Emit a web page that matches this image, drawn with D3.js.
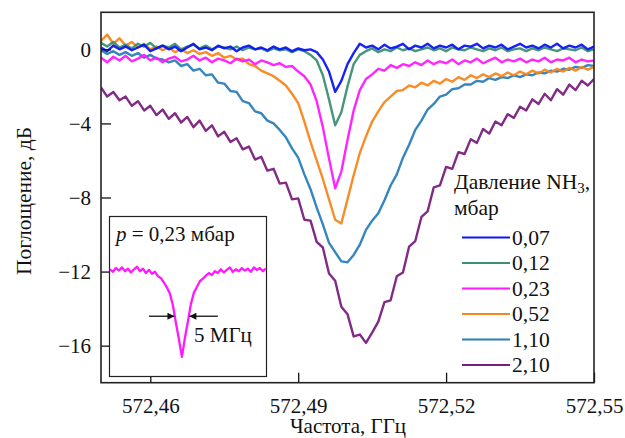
<!DOCTYPE html>
<html><head><meta charset="utf-8">
<script src="https://cdn.jsdelivr.net/npm/d3@7"></script>
<style>
body{margin:0;background:#fff}
svg{display:block}
text{font-family:"Liberation Serif","Times New Roman",serif;fill:#111}
</style>
</head><body>
<svg id="c" width="625" height="438"></svg>
<script>
// ---- data ----
const freq = [
572.45000,572.45125,572.45250,572.45375,572.45500,572.45625,572.45750,572.45875,572.46000,572.46125,
572.46250,572.46375,572.46500,572.46625,572.46750,572.46875,572.47000,572.47125,572.47250,572.47375,
572.47500,572.47625,572.47750,572.47875,572.48000,572.48125,572.48250,572.48375,572.48500,572.48625,
572.48750,572.48875,572.49000,572.49125,572.49250,572.49375,572.49500,572.49625,572.49750,572.49875,
572.50000,572.50125,572.50250,572.50375,572.50500,572.50625,572.50750,572.50875,572.51000,572.51125,
572.51250,572.51375,572.51500,572.51625,572.51750,572.51875,572.52000,572.52125,572.52250,572.52375,
572.52500,572.52625,572.52750,572.52875,572.53000,572.53125,572.53250,572.53375,572.53500,572.53625,
572.53750,572.53875,572.54000,572.54125,572.54250,572.54375,572.54500,572.54625,572.54750,572.54875,
572.55000];

const p007 = [
0.10,-0.10,0.20,0.00,0.15,-0.05,0.10,0.25,-0.10,0.05,
0.20,0.00,0.15,-0.10,0.10,0.30,0.00,0.10,-0.05,0.20,
0.05,0.15,-0.10,0.10,0.20,0.00,0.10,-0.05,0.15,0.00,
0.10,-0.10,0.05,-0.05,0.00,-0.15,-0.55,-1.20,-2.30,-1.70,
-0.80,-0.20,0.30,0.10,0.20,0.00,0.25,0.05,0.15,0.30,
0.00,0.20,0.10,0.30,0.05,0.20,0.10,0.25,0.00,0.20,
0.15,0.30,0.05,0.20,0.10,0.25,0.00,0.15,0.30,0.10,
0.20,0.05,0.25,0.10,0.30,0.05,0.20,0.10,0.25,0.00,
0.15];

const p012 = [
0.35,0.15,0.40,0.10,0.25,0.05,0.30,0.15,0.35,0.05,
0.20,0.10,0.30,0.00,0.15,0.25,0.05,0.20,0.00,0.15,
0.10,0.00,0.15,-0.05,0.10,0.00,0.05,-0.10,0.05,-0.05,
0.00,-0.15,0.00,-0.10,-0.30,-0.60,-1.40,-2.70,-4.10,-3.40,
-2.00,-0.80,-0.30,-0.10,0.05,-0.15,0.00,-0.10,0.10,-0.05,
0.05,-0.10,0.00,0.10,-0.05,0.05,-0.10,0.10,0.00,-0.05,
0.10,0.00,-0.10,0.05,-0.05,0.10,-0.10,0.00,0.05,-0.10,
0.05,-0.05,0.10,0.00,-0.10,0.05,0.00,-0.05,0.10,-0.10,
0.00];

const p023 = [
-0.45,-0.70,-0.40,-0.60,-0.35,-0.65,-0.50,-0.30,-0.60,-0.45,
-0.70,-0.50,-0.40,-0.65,-0.55,-0.35,-0.60,-0.45,-0.70,-0.50,
-0.60,-0.75,-0.50,-0.65,-0.55,-0.80,-0.60,-0.70,-0.85,-0.75,
-0.95,-0.90,-1.20,-1.45,-1.90,-2.80,-4.20,-5.90,-7.50,-6.60,
-4.90,-3.30,-2.20,-1.60,-1.35,-1.05,-1.15,-0.85,-1.00,-0.80,
-0.90,-0.70,-0.85,-0.60,-0.80,-0.65,-0.75,-0.55,-0.80,-0.60,
-0.70,-0.50,-0.75,-0.60,-0.45,-0.70,-0.55,-0.65,-0.50,-0.70,
-0.55,-0.65,-0.45,-0.70,-0.55,-0.60,-0.45,-0.70,-0.55,-0.65,
-0.60];

const p052 = [
0.45,0.80,0.30,0.60,0.20,0.40,0.10,0.30,0.00,0.15,
-0.05,0.10,-0.15,0.00,-0.20,-0.05,-0.25,-0.15,-0.35,-0.20,
-0.45,-0.35,-0.55,-0.50,-0.80,-0.90,-1.15,-1.30,-1.45,-1.70,
-1.95,-2.40,-2.90,-3.90,-5.00,-6.00,-7.00,-8.10,-9.20,-9.40,
-8.10,-6.80,-5.60,-4.70,-3.90,-3.35,-2.85,-2.55,-2.25,-2.20,
-1.95,-2.05,-1.80,-1.95,-1.70,-1.85,-1.60,-1.75,-1.50,-1.65,
-1.40,-1.55,-1.35,-1.50,-1.30,-1.45,-1.25,-1.40,-1.20,-1.35,
-1.15,-1.30,-1.10,-1.25,-1.05,-1.20,-1.00,-1.15,-0.95,-1.10,
-0.95];

const p110 = [
-0.05,-0.25,-0.10,-0.30,-0.15,-0.35,-0.20,-0.45,-0.30,-0.50,
-0.55,-0.70,-0.60,-0.90,-0.80,-1.15,-1.05,-1.40,-1.35,-1.80,
-1.85,-2.25,-2.30,-2.80,-2.90,-3.35,-3.45,-3.85,-4.00,-4.35,
-4.75,-5.35,-5.85,-6.75,-7.55,-8.55,-9.45,-10.45,-10.95,-11.45,
-11.50,-11.10,-10.55,-9.75,-9.25,-8.85,-8.15,-7.35,-6.75,-5.85,
-5.15,-4.35,-3.85,-3.25,-2.95,-2.55,-2.45,-2.15,-2.10,-1.90,
-1.90,-1.70,-1.75,-1.55,-1.65,-1.50,-1.55,-1.40,-1.50,-1.35,
-1.40,-1.25,-1.30,-1.15,-1.20,-1.05,-1.10,-0.95,-1.00,-0.85,
-0.90];

const p210 = [
-2.05,-2.55,-2.30,-2.75,-2.55,-3.05,-2.80,-3.30,-3.05,-3.55,
-3.25,-3.75,-3.45,-3.95,-3.65,-4.20,-3.85,-4.40,-4.10,-4.70,
-4.45,-5.00,-4.80,-5.40,-5.25,-5.95,-5.80,-6.55,-6.45,-7.25,
-7.20,-8.10,-8.05,-9.20,-9.25,-10.40,-10.70,-12.10,-12.50,-13.90,
-14.30,-15.50,-15.40,-15.85,-15.30,-14.70,-13.65,-13.55,-12.25,-12.05,
-10.65,-10.35,-9.05,-8.75,-7.45,-7.35,-6.35,-6.45,-5.55,-5.65,
-4.85,-5.05,-4.30,-4.55,-3.90,-4.10,-3.50,-3.70,-3.10,-3.30,
-2.70,-2.95,-2.40,-2.75,-2.15,-2.45,-1.90,-2.20,-1.70,-1.95,
-1.60];

const pressures = ["0,07","0,12","0,23","0,52","1,10","2,10"];
const seriesValues = [p007, p012, p023, p052, p110, p210];
const colors = ["#0b16f2","#3d8f73","#ff19ff","#f7861c","#2a80ba","#7a1f80"];

const xTicks = [572.46, 572.49, 572.52, 572.55];
const xTickLabels = ["572,46","572,49","572,52","572,55"];
const yTicks = [0, -4, -8, -12, -16];
const yTickLabels = ["0","\u22124","\u22128","\u221212","\u221216"];

// inset: offset from line centre, MHz, and absorption, dB (p = 0,23 mbar)
const insetOffset = [-24,-23,-22,-21,-20,-19,-18,-17,-16,-15,-14,-13,-12,-11,-10,-9,-8,-7,-6,-5,-4,-3,-2,-1,0,
1,2,3,4,5,6,7,8,9,10,11,12,13,14,15,16,17,18,19,20,21,22,23,24,25,26,27,28];
const insetValue = [-0.55,-0.75,-0.45,-0.65,-0.40,-0.70,-0.50,-0.80,-0.55,-0.35,-0.70,-0.50,-0.85,-0.60,-0.90,-0.75,-1.10,-1.25,-1.60,-2.00,-2.50,-3.40,-4.80,-6.10,-7.50,
-6.00,-4.70,-3.30,-2.40,-1.95,-1.50,-1.30,-1.05,-0.85,-1.00,-0.70,-0.85,-0.55,-0.80,-0.60,-0.40,-0.75,-0.55,-0.70,-0.45,-0.65,-0.50,-0.75,-0.40,-0.60,-0.45,-0.70,-0.50];
const insetFWHM = 5; // MHz

// ---- drawing ----
const svg = d3.select("#c");
const x = d3.scaleLinear().domain([572.45, 572.55]).range([101, 594]);
const y = d3.scaleLinear().domain([-18, 2]).range([382.7, 12.3]);

svg.append("defs").append("clipPath").attr("id","plotclip")
  .append("rect").attr("x",101).attr("y",12.3).attr("width",493).attr("height",370.4);

const line = d3.line().x(d => x(d[0])).y(d => y(d[1]));
const drawOrder = [5,4,3,2,1,0];
const gLines = svg.append("g").attr("clip-path","url(#plotclip)");
drawOrder.forEach(k => {
  const pts = freq.map((f,i) => [f, seriesValues[k][i]]).filter(d => d[1] !== undefined);
  gLines.append("path").datum(pts).attr("d", line)
    .attr("fill","none").attr("stroke", colors[k]).attr("stroke-width", 2.4)
    .attr("stroke-linejoin","round").attr("opacity",0.95);
});

// axes
const xAxis = d3.axisBottom(x).tickValues(xTicks).tickFormat((d,i) => xTickLabels[i])
  .tickSizeInner(-10).tickSizeOuter(0).tickPadding(15);
const gx = svg.append("g").attr("transform","translate(0,382.7)").call(xAxis);
const yAxis = d3.axisLeft(y).tickValues(yTicks).tickFormat((d,i) => yTickLabels[i])
  .tickSizeInner(-10).tickSizeOuter(0).tickPadding(10);
const gy = svg.append("g").attr("transform","translate(101,0)").call(yAxis);
[gx, gy].forEach(g => {
  g.select(".domain").remove();
  g.selectAll("line").attr("stroke","#111").attr("stroke-width",1.3);
  g.selectAll("text").attr("font-size",21).attr("font-family","Liberation Serif").attr("fill","#111");
});

// frame
svg.append("rect").attr("x",101).attr("y",12.3).attr("width",493).attr("height",370.4)
  .attr("fill","none").attr("stroke","#222").attr("stroke-width",1.6);

// axis titles
svg.append("text").attr("x",348).attr("y",433).attr("text-anchor","middle")
  .attr("font-size",21).text("Частота, ГГц");
svg.append("text").attr("transform","translate(31,201) rotate(-90)").attr("text-anchor","middle")
  .attr("font-size",21.5).text("Поглощение, дБ");

// legend
const lg = svg.append("g");
const t1 = lg.append("text").attr("x",454).attr("y",189).attr("font-size",21.5);
t1.append("tspan").text("Давление NH");
t1.append("tspan").attr("font-size",15).attr("dy",4).text("3");
t1.append("tspan").attr("dy",-4).text(",");
lg.append("text").attr("x",454).attr("y",215).attr("font-size",21.5).text("мбар");
pressures.forEach((p,i) => {
  const yy = 237.5 + i*25.5;
  lg.append("line").attr("x1",462).attr("x2",510).attr("y1",yy).attr("y2",yy)
    .attr("stroke",colors[i]).attr("stroke-width",2);
  lg.append("text").attr("x",512).attr("y",yy+7).attr("font-size",21.5).text(p);
});

// inset
const ix = d3.scaleLinear().domain([-24, 28.4]).range([110, 267]);
const iy = d3.scaleLinear().domain([-9.1, 3.6]).range([377, 217]);
svg.append("rect").attr("x",109.5).attr("y",216.5).attr("width",157).attr("height",160)
  .attr("fill","#fff").attr("stroke","#222").attr("stroke-width",1.2);
svg.append("path").datum(insetOffset.map((o,i) => [o, insetValue[i]]))
  .attr("d", d3.line().x(d => ix(d[0])).y(d => iy(d[1])))
  .attr("fill","none").attr("stroke","#ff19ff").attr("stroke-width",2.3).attr("stroke-linejoin","round");
const pt = svg.append("text").attr("x",116).attr("y",241).attr("font-size",21);
pt.append("tspan").attr("font-style","italic").text("p");
pt.append("tspan").text(" = 0,23 мбар");

const base = d3.mean(insetValue.slice(0,12));
const half = (base + d3.min(insetValue)) / 2;
const ay = iy(half) + 3;
const defs = svg.select("defs");
defs.append("marker").attr("id","ah").attr("viewBox","0 0 10 10").attr("refX",10).attr("refY",5)
  .attr("markerWidth",9).attr("markerHeight",7).attr("markerUnits","userSpaceOnUse").attr("orient","auto")
  .append("path").attr("d","M0,0 L10,5 L0,10 z").attr("fill","#111");
svg.append("line").attr("x1",ix(-insetFWHM/2 - 8.5)).attr("x2",ix(-insetFWHM/2)).attr("y1",ay).attr("y2",ay)
  .attr("stroke","#111").attr("stroke-width",1.3).attr("marker-end","url(#ah)");
svg.append("line").attr("x1",ix(insetFWHM/2 + 9.5)).attr("x2",ix(insetFWHM/2)).attr("y1",ay).attr("y2",ay)
  .attr("stroke","#111").attr("stroke-width",1.3).attr("marker-end","url(#ah)");
svg.append("text").attr("x",194).attr("y",342).attr("font-size",21).text(insetFWHM + " МГц");
</script>
</body></html>
